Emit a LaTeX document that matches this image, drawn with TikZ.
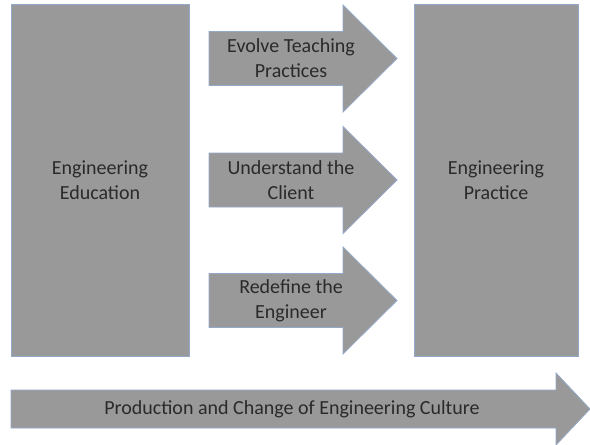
\documentclass[tikz,border=0pt]{standalone}
\usepackage{fontspec}
\setmainfont{Carlito}
\usepackage{xcolor}
\definecolor{blockgray}{HTML}{999999}
\definecolor{blockline}{HTML}{94A9C9}
\definecolor{blocktext}{HTML}{2A2A2A}
\tikzset{
	block/.style={
		fill=blockgray, draw=blockline,
		line width = 0.8pt, line join=miter
	},
	caption/.style={
		text=blocktext, align=center, inner sep=0pt,
		font=\fontsize{20}{25}\selectfont
	}
}

\begin{document}
\begin{tikzpicture}[x=1pt, y=-1pt]
\useasboundingbox (0,0) rectangle (590,445);
\draw[block] (11,4) rectangle (189,356);
\draw[block] (414,4) rectangle (578,356);
\draw[block] (209,31.5) -- (343,31.5) -- (343,5) -- (397,58.5) -- (343,112) -- (343,85.5) -- (209,85.5) -- cycle;
\draw[block] (209,153) -- (343,153) -- (343,126.5) -- (397,180) -- (343,233.5) -- (343,207) -- (209,207) -- cycle;
\draw[block] (209,273.5) -- (343,273.5) -- (343,247) -- (397,300.5) -- (343,354) -- (343,327.5) -- (209,327.5) -- cycle;
\draw[block] (11,390) -- (556,390) -- (556,373) -- (590,409) -- (556,445) -- (556,428) -- (11,428) -- cycle;
\node[caption] (edu) at ( 100, 180 ) {Engineering\\Education};
\node[caption] (prac) at ( 496, 180 ) {Engineering\\Practice};
\node[caption] (teach) at ( 291, 58.5 ) {Evolve Teaching\\Practices};
\node[caption] (client) at ( 291, 180 ) {Understand the\\Client};
\node[caption] (engr) at ( 291, 300.5 ) {Redefine the\\Engineer};
\node[caption] (culture) at ( 292, 409 ) {Production and Change of Engineering Culture};
\end{tikzpicture}
\end{document}
